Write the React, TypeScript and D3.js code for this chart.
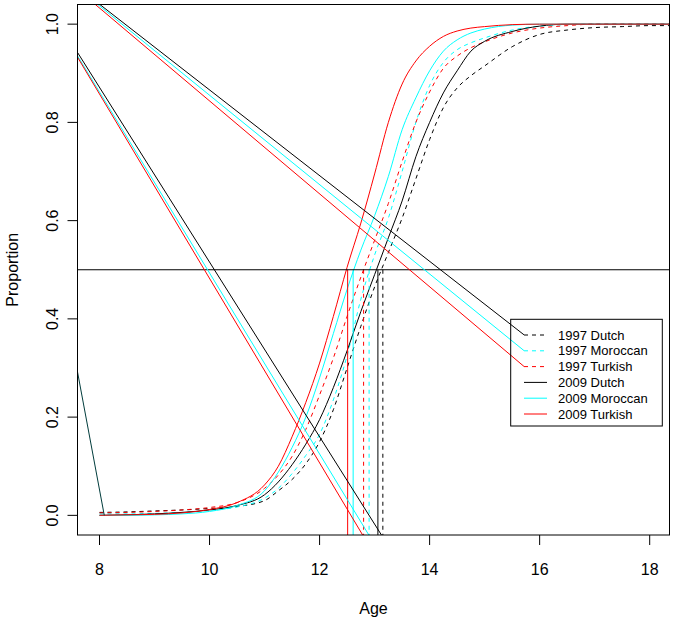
import React from "react";
import * as d3 from "d3";

// ---- data ----
const ages = [8, 8.5, 9, 9.5, 10, 10.5, 11, 11.25, 11.5, 11.75, 12, 12.25, 12.5, 12.75, 13, 13.25, 13.5, 13.75, 14, 14.25, 14.5, 14.75, 15, 15.5, 16, 16.5, 17, 17.5, 18, 18.4];

const dutch1997 = [0.006, 0.007, 0.009, 0.011, 0.014, 0.018, 0.03, 0.05, 0.073, 0.105, 0.15, 0.215, 0.3, 0.385, 0.465, 0.535, 0.605, 0.685, 0.765, 0.83, 0.87, 0.895, 0.915, 0.954, 0.979, 0.988, 0.993, 0.995, 0.997, 0.997];
const moroccan1997 = [0.003, 0.003, 0.004, 0.006, 0.01, 0.017, 0.035, 0.055, 0.085, 0.122, 0.165, 0.235, 0.325, 0.44, 0.53, 0.605, 0.7, 0.8, 0.875, 0.922, 0.948, 0.962, 0.972, 0.988, 0.996, 0.999, 1, 1, 1, 1];
const turkish1997 = [0.005, 0.006, 0.008, 0.011, 0.016, 0.026, 0.055, 0.082, 0.12, 0.175, 0.245, 0.32, 0.405, 0.485, 0.56, 0.635, 0.72, 0.8, 0.862, 0.91, 0.935, 0.952, 0.964, 0.982, 0.992, 0.997, 1, 1, 1, 1];
const dutch2009 = [0, 0.001, 0.003, 0.006, 0.011, 0.02, 0.042, 0.068, 0.103, 0.145, 0.195, 0.26, 0.335, 0.415, 0.49, 0.565, 0.64, 0.73, 0.8, 0.86, 0.905, 0.945, 0.965, 0.985, 0.996, 1, 1, 1, 1, 1];
const moroccan2009 = [0, 0, 0.001, 0.003, 0.008, 0.02, 0.05, 0.088, 0.138, 0.2, 0.28, 0.37, 0.46, 0.54, 0.61, 0.69, 0.785, 0.85, 0.905, 0.945, 0.968, 0.982, 0.99, 0.998, 1, 1, 1, 1, 1, 1];
const turkish2009 = [0, 0.001, 0.002, 0.005, 0.012, 0.026, 0.062, 0.1, 0.16, 0.23, 0.31, 0.405, 0.505, 0.595, 0.695, 0.8, 0.878, 0.925, 0.955, 0.975, 0.986, 0.992, 0.995, 0.999, 1, 1, 1, 1, 1, 1];

const seriesNames = ["1997 Dutch", "1997 Moroccan", "1997 Turkish", "2009 Dutch", "2009 Moroccan", "2009 Turkish"];
const seriesValues = [dutch1997, moroccan1997, turkish1997, dutch2009, moroccan2009, turkish2009];
const medianAges = [13.15, 12.9, 12.8, 13.06, 12.61, 12.51];

// straight segments seen in the plot (data coords: [age, proportion])
const shallowStarts = [[7.6, 1.0755], [7.6, 1.0736], [7.6, 1.0707]];
const shallowEnds = [[15.715, 0.3676], [15.715, 0.3354], [15.715, 0.3032]];
const steepStarts = [[7.6, 0.9424], [7.6, 0.9355], [7.6, 0.9328]];
const steepEnds = [[13.3, -0.0712], [13.1, -0.0777], [13.0, -0.0808]];
const leftSegment = [[7.6, 0.292], [8.087, 0.0]];

const xTicks = [8, 10, 12, 14, 16, 18];
const yTicks = [0, 0.2, 0.4, 0.6, 0.8, 1.0];
const refLevel = 0.5;

// ---- styles ----
const seriesColors = ["#000000", "#00FFFF", "#FF0000", "#000000", "#00FFFF", "#FF0000"];
const seriesDash = ["4,4", "4,4", "4,4", null, null, null];
const diagColors = ["#000000", "#00FFFF", "#FF0000"];

const W = 675, H = 623;
const L = 77.5, R = 669.5, T = 4.5, B = 535;
const FONT = "'Liberation Sans', Arial, Helvetica, sans-serif";

export default function App() {
  const x = d3.scaleLinear().domain([7.6, 18.36]).range([L, R]);
  const y = d3.scaleLinear().domain([-0.04, 1.04]).range([B, T]);

  const lineGen = d3
    .line<[number, number]>()
    .x((d) => x(d[0]))
    .y((d) => y(d[1]))
    .curve(d3.curveMonotoneX);
  const seg = d3
    .line<number[]>()
    .x((d) => x(d[0]))
    .y((d) => y(d[1]));

  const legendRowY = (i: number) => 335 + i * 15.8;

  return (
    <svg
      width={W}
      height={H}
      style={{ position: "absolute", left: 0, top: 0, background: "#fff", display: "block" }}
      fontFamily={FONT}
    >
      <defs>
        <clipPath id="plotClip">
          <rect x={L} y={T} width={R - L} height={B - T} />
        </clipPath>
      </defs>
      <rect x={0} y={0} width={W} height={H} fill="#fff" />

      <g clipPath="url(#plotClip)" fill="none" strokeWidth={1}>
        {seriesValues.map((vals, i) => (
          <path
            key={"c" + i}
            d={lineGen(ages.map((a, j) => [a, vals[j]] as [number, number])) || ""}
            stroke={seriesColors[i]}
            strokeDasharray={seriesDash[i] || undefined}
          />
        ))}
        {medianAges.map((m, i) => (
          <path
            key={"m" + i}
            d={seg([[m, refLevel], [m, -0.06]]) || ""}
            stroke={seriesColors[i]}
            strokeDasharray={seriesDash[i] || undefined}
          />
        ))}
        <path d={seg([[7.5, refLevel], [18.5, refLevel]]) || ""} stroke="#000" />
        {shallowStarts.map((s, i) => (
          <path key={"s" + i} d={seg([s, shallowEnds[i]]) || ""} stroke={diagColors[i]} />
        ))}
        {steepStarts.map((s, i) => (
          <path key={"t" + i} d={seg([s, steepEnds[i]]) || ""} stroke={diagColors[i]} />
        ))}
        <path d={seg(leftSegment) || ""} stroke="#003c3c" />
      </g>

      {/* box */}
      <rect x={L} y={T} width={R - L} height={B - T} fill="none" stroke="#000" strokeWidth={1} />

      {/* x axis */}
      <g>
        {xTicks.map((t) => (
          <g key={"xt" + t}>
            <line x1={x(t)} x2={x(t)} y1={B} y2={B + 10} stroke="#000" />
            <text x={x(t)} y={575} fontSize={16} textAnchor="middle" fill="#000">
              {t}
            </text>
          </g>
        ))}
        <text x={(L + R) / 2} y={614} fontSize={16} textAnchor="middle" fill="#000">
          Age
        </text>
      </g>

      {/* y axis */}
      <g>
        {yTicks.map((t) => (
          <g key={"yt" + t}>
            <line x1={L - 10} x2={L} y1={y(t)} y2={y(t)} stroke="#000" />
            <text
              transform={`translate(58,${y(t)}) rotate(-90)`}
              fontSize={16}
              textAnchor="middle"
              fill="#000"
            >
              {t.toFixed(1)}
            </text>
          </g>
        ))}
        <text
          transform={`translate(18,${(T + B) / 2}) rotate(-90)`}
          fontSize={16}
          textAnchor="middle"
          fill="#000"
        >
          Proportion
        </text>
      </g>

      {/* legend */}
      <g>
        <rect x={510.7} y={319.3} width={151.6} height={106.7} fill="none" stroke="#000" />
        {seriesNames.map((n, i) => (
          <g key={"lg" + i}>
            <line
              x1={524}
              x2={547}
              y1={legendRowY(i)}
              y2={legendRowY(i)}
              stroke={seriesColors[i]}
              strokeDasharray={seriesDash[i] || undefined}
            />
            <text x={558} y={legendRowY(i) + 4.6} fontSize={13} fill="#000">
              {n}
            </text>
          </g>
        ))}
      </g>
    </svg>
  );
}
